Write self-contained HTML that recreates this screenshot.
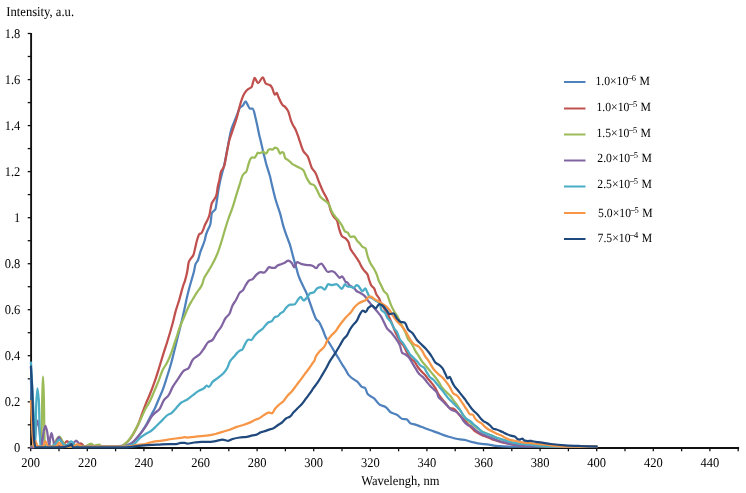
<!DOCTYPE html>
<html><head><meta charset="utf-8"><style>
html,body{margin:0;padding:0;background:#fff;width:746px;height:493px;overflow:hidden;}
svg{display:block;will-change:transform;}
</style></head><body>
<svg width="746" height="493" viewBox="0 0 746 493">
<rect width="746" height="493" fill="#fff"/>
<g font-family="'Liberation Serif', serif" font-size="12" fill="#000" text-rendering="geometricPrecision">
<text x="20.3" y="452.0" text-anchor="end" font-size="12.5" transform="matrix(1,0,0,1.07,0,-31.64)">0</text>
<text x="20.3" y="406.0" text-anchor="end" font-size="12.5" transform="matrix(1,0,0,1.07,0,-28.42)">0.2</text>
<text x="20.3" y="359.9" text-anchor="end" font-size="12.5" transform="matrix(1,0,0,1.07,0,-25.20)">0.4</text>
<text x="20.3" y="313.9" text-anchor="end" font-size="12.5" transform="matrix(1,0,0,1.07,0,-21.97)">0.6</text>
<text x="20.3" y="267.9" text-anchor="end" font-size="12.5" transform="matrix(1,0,0,1.07,0,-18.75)">0.8</text>
<text x="20.3" y="221.8" text-anchor="end" font-size="12.5" transform="matrix(1,0,0,1.07,0,-15.53)">1</text>
<text x="20.3" y="175.8" text-anchor="end" font-size="12.5" transform="matrix(1,0,0,1.07,0,-12.31)">1.2</text>
<text x="20.3" y="129.8" text-anchor="end" font-size="12.5" transform="matrix(1,0,0,1.07,0,-9.09)">1.4</text>
<text x="20.3" y="83.8" text-anchor="end" font-size="12.5" transform="matrix(1,0,0,1.07,0,-5.86)">1.6</text>
<text x="20.3" y="37.7" text-anchor="end" font-size="12.5" transform="matrix(1,0,0,1.07,0,-2.64)">1.8</text>
<text x="30.7" y="466.7" text-anchor="middle" font-size="12.5" transform="matrix(1,0,0,1.07,0,-32.67)">200</text>
<text x="87.3" y="466.7" text-anchor="middle" font-size="12.5" transform="matrix(1,0,0,1.07,0,-32.67)">220</text>
<text x="143.9" y="466.7" text-anchor="middle" font-size="12.5" transform="matrix(1,0,0,1.07,0,-32.67)">240</text>
<text x="200.5" y="466.7" text-anchor="middle" font-size="12.5" transform="matrix(1,0,0,1.07,0,-32.67)">260</text>
<text x="257.1" y="466.7" text-anchor="middle" font-size="12.5" transform="matrix(1,0,0,1.07,0,-32.67)">280</text>
<text x="313.7" y="466.7" text-anchor="middle" font-size="12.5" transform="matrix(1,0,0,1.07,0,-32.67)">300</text>
<text x="370.3" y="466.7" text-anchor="middle" font-size="12.5" transform="matrix(1,0,0,1.07,0,-32.67)">320</text>
<text x="426.9" y="466.7" text-anchor="middle" font-size="12.5" transform="matrix(1,0,0,1.07,0,-32.67)">340</text>
<text x="483.5" y="466.7" text-anchor="middle" font-size="12.5" transform="matrix(1,0,0,1.07,0,-32.67)">360</text>
<text x="540.1" y="466.7" text-anchor="middle" font-size="12.5" transform="matrix(1,0,0,1.07,0,-32.67)">380</text>
<text x="596.7" y="466.7" text-anchor="middle" font-size="12.5" transform="matrix(1,0,0,1.07,0,-32.67)">400</text>
<text x="653.3" y="466.7" text-anchor="middle" font-size="12.5" transform="matrix(1,0,0,1.07,0,-32.67)">420</text>
<text x="709.9" y="466.7" text-anchor="middle" font-size="12.5" transform="matrix(1,0,0,1.07,0,-32.67)">440</text>
<text x="400.3" y="484.9" text-anchor="middle" font-size="12.5" transform="matrix(1,0,0,1.07,0,-33.94)">Wavelengh, nm</text>
<text x="6.3" y="15.8" font-size="12.6" transform="matrix(1,0,0,1.07,0,-1.11)">Intensity, a.u.</text>
<line x1="564" y1="82.0" x2="585.5" y2="82.0" stroke="#4F81BD" stroke-width="2"/>
<text font-size="11.7" x="595.4" y="85.1" transform="matrix(1,0,0,1.07,0,-5.96)">1.0×10<tspan font-size="10" dx="-1" dy="-2.7">−</tspan><tspan font-size="8.5" dx="-1.1" dy="-1.3">6</tspan><tspan dy="4.0" dx="0.5"> M</tspan></text>
<line x1="564" y1="108.5" x2="585.5" y2="108.5" stroke="#C0504D" stroke-width="2"/>
<text font-size="11.7" x="596.5" y="111.0" transform="matrix(1,0,0,1.07,0,-7.77)">1.0×10<tspan font-size="10" dx="-1" dy="-2.7">−</tspan><tspan font-size="8.5" dx="-1.1" dy="-1.3">5</tspan><tspan dy="4.0" dx="0.5"> M</tspan></text>
<line x1="564" y1="134.5" x2="585.5" y2="134.5" stroke="#9BBB59" stroke-width="2"/>
<text font-size="11.7" x="596.5" y="136.9" transform="matrix(1,0,0,1.07,0,-9.58)">1.5×10<tspan font-size="10" dx="-1" dy="-2.7">−</tspan><tspan font-size="8.5" dx="-1.1" dy="-1.3">5</tspan><tspan dy="4.0" dx="0.5"> M</tspan></text>
<line x1="564" y1="160.5" x2="585.5" y2="160.5" stroke="#8064A2" stroke-width="2"/>
<text font-size="11.7" x="597.3" y="162.0" transform="matrix(1,0,0,1.07,0,-11.34)">2.0×10<tspan font-size="10" dx="-1" dy="-2.7">−</tspan><tspan font-size="8.5" dx="-1.1" dy="-1.3">5</tspan><tspan dy="4.0" dx="0.5"> M</tspan></text>
<line x1="564" y1="186.5" x2="585.5" y2="186.5" stroke="#4BACC6" stroke-width="2"/>
<text font-size="11.7" x="597.3" y="188.1" transform="matrix(1,0,0,1.07,0,-13.17)">2.5×10<tspan font-size="10" dx="-1" dy="-2.7">−</tspan><tspan font-size="8.5" dx="-1.1" dy="-1.3">5</tspan><tspan dy="4.0" dx="0.5"> M</tspan></text>
<line x1="564" y1="213.0" x2="585.5" y2="213.0" stroke="#F79646" stroke-width="2"/>
<text font-size="11.7" x="598.1" y="217.1" transform="matrix(1,0,0,1.07,0,-15.20)">5.0×10<tspan font-size="10" dx="-1" dy="-2.7">−</tspan><tspan font-size="8.5" dx="-1.1" dy="-1.3">5</tspan><tspan dy="4.0" dx="0.5"> M</tspan></text>
<line x1="564" y1="239.0" x2="585.5" y2="239.0" stroke="#1F497D" stroke-width="2"/>
<text font-size="11.7" x="597.6" y="242.1" transform="matrix(1,0,0,1.07,0,-16.95)">7.5×10<tspan font-size="10" dx="-1" dy="-2.7">−</tspan><tspan font-size="8.5" dx="-1.1" dy="-1.3">4</tspan><tspan dy="4.0" dx="0.5"> M</tspan></text>
</g>
<g>
<line x1="31.1" y1="33.0" x2="31.1" y2="448.9" stroke="#111" stroke-width="1.9"/>
<line x1="30.2" y1="448.0" x2="739.1" y2="448.0" stroke="#111" stroke-width="1.9"/>
<line x1="27.7" y1="447.8" x2="31.1" y2="447.8" stroke="#111" stroke-width="1.3"/>
<line x1="27.7" y1="424.8" x2="31.1" y2="424.8" stroke="#111" stroke-width="1.3"/>
<line x1="27.7" y1="401.8" x2="31.1" y2="401.8" stroke="#111" stroke-width="1.3"/>
<line x1="27.7" y1="378.8" x2="31.1" y2="378.8" stroke="#111" stroke-width="1.3"/>
<line x1="27.7" y1="355.7" x2="31.1" y2="355.7" stroke="#111" stroke-width="1.3"/>
<line x1="27.7" y1="332.7" x2="31.1" y2="332.7" stroke="#111" stroke-width="1.3"/>
<line x1="27.7" y1="309.7" x2="31.1" y2="309.7" stroke="#111" stroke-width="1.3"/>
<line x1="27.7" y1="286.7" x2="31.1" y2="286.7" stroke="#111" stroke-width="1.3"/>
<line x1="27.7" y1="263.7" x2="31.1" y2="263.7" stroke="#111" stroke-width="1.3"/>
<line x1="27.7" y1="240.7" x2="31.1" y2="240.7" stroke="#111" stroke-width="1.3"/>
<line x1="27.7" y1="217.7" x2="31.1" y2="217.7" stroke="#111" stroke-width="1.3"/>
<line x1="27.7" y1="194.6" x2="31.1" y2="194.6" stroke="#111" stroke-width="1.3"/>
<line x1="27.7" y1="171.6" x2="31.1" y2="171.6" stroke="#111" stroke-width="1.3"/>
<line x1="27.7" y1="148.6" x2="31.1" y2="148.6" stroke="#111" stroke-width="1.3"/>
<line x1="27.7" y1="125.6" x2="31.1" y2="125.6" stroke="#111" stroke-width="1.3"/>
<line x1="27.7" y1="102.6" x2="31.1" y2="102.6" stroke="#111" stroke-width="1.3"/>
<line x1="27.7" y1="79.6" x2="31.1" y2="79.6" stroke="#111" stroke-width="1.3"/>
<line x1="27.7" y1="56.5" x2="31.1" y2="56.5" stroke="#111" stroke-width="1.3"/>
<line x1="27.7" y1="33.5" x2="31.1" y2="33.5" stroke="#111" stroke-width="1.3"/>
<line x1="30.7" y1="448.0" x2="30.7" y2="451.3" stroke="#111" stroke-width="1.3"/>
<line x1="59.0" y1="448.0" x2="59.0" y2="451.3" stroke="#111" stroke-width="1.3"/>
<line x1="87.3" y1="448.0" x2="87.3" y2="451.3" stroke="#111" stroke-width="1.3"/>
<line x1="115.6" y1="448.0" x2="115.6" y2="451.3" stroke="#111" stroke-width="1.3"/>
<line x1="143.9" y1="448.0" x2="143.9" y2="451.3" stroke="#111" stroke-width="1.3"/>
<line x1="172.2" y1="448.0" x2="172.2" y2="451.3" stroke="#111" stroke-width="1.3"/>
<line x1="200.5" y1="448.0" x2="200.5" y2="451.3" stroke="#111" stroke-width="1.3"/>
<line x1="228.8" y1="448.0" x2="228.8" y2="451.3" stroke="#111" stroke-width="1.3"/>
<line x1="257.1" y1="448.0" x2="257.1" y2="451.3" stroke="#111" stroke-width="1.3"/>
<line x1="285.4" y1="448.0" x2="285.4" y2="451.3" stroke="#111" stroke-width="1.3"/>
<line x1="313.7" y1="448.0" x2="313.7" y2="451.3" stroke="#111" stroke-width="1.3"/>
<line x1="342.0" y1="448.0" x2="342.0" y2="451.3" stroke="#111" stroke-width="1.3"/>
<line x1="370.3" y1="448.0" x2="370.3" y2="451.3" stroke="#111" stroke-width="1.3"/>
<line x1="398.6" y1="448.0" x2="398.6" y2="451.3" stroke="#111" stroke-width="1.3"/>
<line x1="426.9" y1="448.0" x2="426.9" y2="451.3" stroke="#111" stroke-width="1.3"/>
<line x1="455.2" y1="448.0" x2="455.2" y2="451.3" stroke="#111" stroke-width="1.3"/>
<line x1="483.5" y1="448.0" x2="483.5" y2="451.3" stroke="#111" stroke-width="1.3"/>
<line x1="511.8" y1="448.0" x2="511.8" y2="451.3" stroke="#111" stroke-width="1.3"/>
<line x1="540.1" y1="448.0" x2="540.1" y2="451.3" stroke="#111" stroke-width="1.3"/>
<line x1="568.4" y1="448.0" x2="568.4" y2="451.3" stroke="#111" stroke-width="1.3"/>
<line x1="596.7" y1="448.0" x2="596.7" y2="451.3" stroke="#111" stroke-width="1.3"/>
<line x1="625.0" y1="448.0" x2="625.0" y2="451.3" stroke="#111" stroke-width="1.3"/>
<line x1="653.3" y1="448.0" x2="653.3" y2="451.3" stroke="#111" stroke-width="1.3"/>
<line x1="681.6" y1="448.0" x2="681.6" y2="451.3" stroke="#111" stroke-width="1.3"/>
<line x1="709.9" y1="448.0" x2="709.9" y2="451.3" stroke="#111" stroke-width="1.3"/>
<line x1="738.2" y1="448.0" x2="738.2" y2="451.3" stroke="#111" stroke-width="1.3"/>
</g>
<g>
<path d="M30.90,378.00 C31.43,395.33 31.97,421.24 32.50,430.00 C33.00,438.21 33.50,446.60 34.00,446.60 C34.67,446.60 35.33,444.50 36.00,444.50 C36.67,444.50 37.33,446.60 38.00,446.60 C42.00,446.60 46.00,446.60 50.00,446.60 C53.33,446.60 56.67,446.10 60.00,445.80 C64.00,445.45 68.00,444.60 72.00,444.60 C74.67,444.60 77.33,446.60 80.00,446.60 C86.67,446.60 93.33,446.60 100.00,446.60 C108.67,446.60 117.33,446.32 126.00,445.50 C127.90,445.32 129.80,444.08 131.70,442.90 C133.93,441.51 136.17,438.81 138.40,436.20 C140.27,434.02 142.13,431.33 144.00,428.40 C145.47,426.10 146.93,423.32 148.40,420.60 C149.53,418.50 150.67,416.09 151.80,414.00 C152.63,412.47 153.47,411.26 154.30,409.60 C155.70,406.81 157.10,402.98 158.50,399.70 C159.93,396.34 161.37,393.48 162.80,389.70 C164.20,386.00 165.60,381.34 167.00,376.90 C168.43,372.36 169.87,367.87 171.30,362.70 C172.50,358.37 173.70,353.30 174.90,348.50 C175.60,345.70 176.30,342.82 177.00,340.00 C177.97,336.11 178.93,332.30 179.90,328.40 C180.83,324.63 181.77,321.00 182.70,317.00 C183.43,313.86 184.17,310.48 184.90,307.10 C185.67,303.56 186.43,299.47 187.20,296.20 C187.97,292.93 188.73,290.14 189.50,287.30 C190.23,284.59 190.97,282.10 191.70,279.50 C192.43,276.90 193.17,274.65 193.90,271.70 C194.47,269.42 195.03,265.21 195.60,263.90 C196.33,262.21 197.07,262.14 197.80,260.60 C198.37,259.41 198.93,256.93 199.50,255.00 C199.77,254.09 200.03,253.02 200.30,252.20 C201.13,249.65 201.97,247.97 202.80,245.70 C203.47,243.88 204.13,242.37 204.80,240.00 C205.17,238.70 205.53,236.36 205.90,235.10 C206.47,233.16 207.03,231.83 207.60,230.50 C208.17,229.17 208.73,228.38 209.30,227.00 C209.70,226.02 210.10,225.19 210.50,223.50 C210.93,221.67 211.37,214.40 211.80,213.40 C212.30,212.24 212.80,211.98 213.30,211.40 C213.97,210.63 214.63,210.56 215.30,209.40 C215.83,208.47 216.37,203.61 216.90,200.30 C217.40,197.20 217.90,193.02 218.40,190.10 C219.07,186.21 219.73,182.96 220.40,180.00 C221.27,176.15 222.13,173.24 223.00,169.80 C223.43,168.08 223.87,166.51 224.30,164.60 C225.23,160.48 226.17,155.08 227.10,150.40 C228.53,143.21 229.97,133.80 231.40,129.10 C232.33,126.04 233.27,124.37 234.20,122.00 C235.13,119.63 236.07,117.23 237.00,114.90 C237.97,112.49 238.93,108.91 239.90,107.80 C240.83,106.73 241.77,106.63 242.70,105.70 C243.67,104.74 244.63,101.40 245.60,101.40 C246.30,101.40 247.00,103.72 247.70,104.90 C248.40,106.08 249.10,108.50 249.80,108.50 C250.77,108.50 251.73,108.50 252.70,108.50 C253.63,108.50 254.57,114.15 255.50,117.70 C256.20,120.36 256.90,123.70 257.60,127.00 C258.13,129.51 258.67,132.66 259.20,135.00 C259.67,137.05 260.13,138.60 260.60,140.50 C261.03,142.27 261.47,144.10 261.90,146.00 C262.37,148.05 262.83,150.45 263.30,152.40 C263.77,154.35 264.23,155.92 264.70,157.80 C265.13,159.55 265.57,161.69 266.00,163.30 C266.47,165.03 266.93,166.38 267.40,167.90 C267.87,169.42 268.33,170.88 268.80,172.40 C269.27,173.92 269.73,175.20 270.20,177.00 C270.63,178.67 271.07,181.08 271.50,183.00 C272.07,185.51 272.63,187.89 273.20,190.20 C274.03,193.60 274.87,197.10 275.70,200.00 C277.23,205.34 278.77,208.75 280.30,214.10 C281.27,217.48 282.23,222.29 283.20,225.60 C284.50,230.05 285.80,233.56 287.10,237.20 C288.07,239.90 289.03,241.88 290.00,244.90 C290.47,246.36 290.93,248.25 291.40,250.00 C292.13,252.74 292.87,255.86 293.60,258.50 C294.30,261.02 295.00,263.17 295.70,265.60 C296.63,268.84 297.57,272.95 298.50,275.60 C299.93,279.68 301.37,282.42 302.80,285.50 C303.97,288.01 305.13,289.87 306.30,292.60 C307.50,295.41 308.70,299.24 309.90,302.60 C311.07,305.87 312.23,309.47 313.40,312.50 C314.37,315.01 315.33,318.34 316.30,319.50 C317.03,320.38 317.77,320.49 318.50,321.30 C319.93,322.89 321.37,326.59 322.80,329.80 C323.73,331.89 324.67,335.01 325.60,336.90 C327.03,339.81 328.47,341.61 329.90,344.00 C331.30,346.34 332.70,348.76 334.10,351.10 C335.53,353.49 336.97,355.83 338.40,358.20 C339.83,360.57 341.27,363.02 342.70,365.30 C343.63,366.78 344.57,368.07 345.50,369.60 C346.50,371.24 347.50,373.71 348.50,374.90 C350.17,376.89 351.83,378.03 353.50,379.20 C354.67,380.02 355.83,380.40 357.00,381.30 C358.67,382.59 360.33,386.37 362.00,387.00 C362.97,387.36 363.93,387.28 364.90,387.70 C365.83,388.11 366.77,393.06 367.70,394.10 C369.83,396.49 371.97,396.61 374.10,398.40 C376.00,400.00 377.90,403.61 379.80,404.70 C381.70,405.79 383.60,405.84 385.50,406.90 C387.37,407.95 389.23,411.59 391.10,412.60 C393.00,413.63 394.90,413.76 396.80,414.70 C398.70,415.64 400.60,418.70 402.50,419.00 C403.93,419.23 405.37,419.15 406.80,419.40 C407.97,419.61 409.13,422.66 410.30,423.20 C411.97,423.97 413.63,424.07 415.30,424.60 C417.30,425.23 419.30,426.06 421.30,426.80 C424.13,427.85 426.97,428.97 429.80,430.00 C432.27,430.90 434.73,431.71 437.20,432.60 C440.43,433.77 443.67,435.24 446.90,436.20 C451.27,437.50 455.63,438.87 460.00,439.40 C461.50,439.58 463.00,439.60 464.50,439.80 C466.73,440.10 468.97,441.34 471.20,441.90 C473.43,442.46 475.67,442.96 477.90,443.30 C480.13,443.64 482.37,443.81 484.60,444.10 C486.07,444.29 487.53,444.48 489.00,444.70 C491.23,445.04 493.47,445.75 495.70,445.90 C501.97,446.33 508.23,446.60 514.50,446.60 C523.00,446.60 531.50,446.60 540.00,446.60 C558.83,446.60 577.67,446.60 596.50,446.60" stroke="#4F81BD" stroke-width="2.25" fill="none" stroke-linejoin="round" stroke-linecap="round"/>
<path d="M31.00,446.60 C37.33,446.60 43.67,446.60 50.00,446.60 C53.33,446.60 56.67,446.40 60.00,446.00 C61.33,445.84 62.67,444.89 64.00,444.00 C65.03,443.31 66.07,441.00 67.10,441.00 C68.07,441.00 69.03,444.01 70.00,444.50 C71.67,445.35 73.33,446.00 75.00,446.00 C76.00,446.00 77.00,445.42 78.00,445.00 C79.00,444.58 80.00,443.30 81.00,443.30 C82.00,443.30 83.00,445.91 84.00,446.00 C89.33,446.49 94.67,446.60 100.00,446.60 C106.67,446.60 113.33,446.60 120.00,446.60 C121.67,446.60 123.33,445.14 125.00,444.00 C126.50,442.98 128.00,441.39 129.50,439.60 C130.97,437.85 132.43,435.42 133.90,432.90 C135.40,430.32 136.90,427.48 138.40,424.00 C139.87,420.60 141.33,415.66 142.80,411.70 C143.93,408.64 145.07,405.59 146.20,402.80 C147.47,399.68 148.73,397.13 150.00,394.00 C151.43,390.46 152.87,386.67 154.30,382.60 C155.70,378.63 157.10,374.24 158.50,369.80 C159.93,365.26 161.37,360.20 162.80,355.60 C164.47,350.25 166.13,345.47 167.80,340.00 C169.47,334.53 171.13,328.95 172.80,322.70 C173.73,319.20 174.67,314.73 175.60,311.40 C176.80,307.12 178.00,304.04 179.20,300.00 C180.53,295.51 181.87,289.71 183.20,285.60 C183.80,283.75 184.40,282.56 185.00,280.60 C185.73,278.20 186.47,275.24 187.20,271.70 C187.77,268.96 188.33,263.16 188.90,261.70 C189.47,260.24 190.03,259.76 190.60,258.90 C191.53,257.48 192.47,256.98 193.40,255.00 C194.10,253.51 194.80,249.34 195.50,246.50 C196.03,244.34 196.57,241.74 197.10,240.00 C197.83,237.60 198.57,234.69 199.30,234.10 C200.00,233.54 200.70,233.64 201.40,233.10 C202.07,232.58 202.73,230.65 203.40,229.10 C203.90,227.94 204.40,226.12 204.90,225.00 C205.50,223.65 206.10,222.85 206.70,221.60 C207.57,219.80 208.43,218.25 209.30,215.50 C210.13,212.85 210.97,205.31 211.80,203.30 C212.63,201.29 213.47,200.77 214.30,199.30 C215.00,198.07 215.70,197.33 216.40,195.20 C216.90,193.68 217.40,188.53 217.90,186.10 C218.40,183.67 218.90,182.32 219.40,180.00 C219.90,177.68 220.40,173.28 220.90,171.90 C221.93,169.04 222.97,169.23 224.00,166.60 C225.07,163.89 226.13,155.83 227.20,150.60 C227.93,147.01 228.67,142.72 229.40,140.00 C230.33,136.54 231.27,134.51 232.20,131.70 C233.80,126.89 235.40,122.63 237.00,117.00 C237.83,114.07 238.67,110.03 239.50,107.00 C240.27,104.21 241.03,101.34 241.80,99.30 C242.83,96.56 243.87,94.05 244.90,92.60 C246.10,90.91 247.30,89.78 248.50,88.90 C249.53,88.14 250.57,88.21 251.60,87.10 C252.10,86.56 252.60,83.73 253.10,82.20 C253.60,80.67 254.10,77.90 254.60,77.90 C255.73,77.90 256.87,83.10 258.00,83.10 C259.63,83.10 261.27,77.30 262.90,77.30 C263.80,77.30 264.70,82.71 265.60,83.40 C267.23,84.66 268.87,84.30 270.50,85.50 C271.10,85.94 271.70,87.15 272.30,88.30 C273.13,89.89 273.97,94.70 274.80,94.70 C275.50,94.70 276.20,92.90 276.90,92.90 C277.33,92.90 277.77,95.38 278.20,96.40 C279.63,99.76 281.07,103.34 282.50,104.90 C283.43,105.92 284.37,106.15 285.30,107.10 C286.27,108.08 287.23,109.35 288.20,111.30 C289.13,113.19 290.07,118.13 291.00,120.60 C291.73,122.54 292.47,124.08 293.20,125.50 C293.90,126.85 294.60,127.68 295.30,129.10 C296.23,130.99 297.17,133.62 298.10,136.20 C298.73,137.95 299.37,140.09 300.00,141.90 C301.13,145.14 302.27,149.15 303.40,151.10 C304.83,153.56 306.27,153.95 307.70,156.40 C309.10,158.80 310.50,165.64 311.90,168.10 C312.97,169.97 314.03,170.49 315.10,172.30 C316.53,174.73 317.97,179.59 319.40,183.00 C320.80,186.34 322.20,189.76 323.60,192.60 C324.67,194.77 325.73,196.14 326.80,198.50 C327.60,200.27 328.40,202.44 329.20,205.00 C329.70,206.60 330.20,209.33 330.70,210.70 C331.63,213.25 332.57,214.98 333.50,216.40 C334.67,218.18 335.83,218.37 337.00,220.60 C337.73,222.00 338.47,226.82 339.20,229.10 C340.13,232.01 341.07,235.39 342.00,236.30 C343.20,237.47 344.40,237.43 345.60,238.40 C346.53,239.15 347.47,240.16 348.40,241.90 C349.10,243.21 349.80,247.53 350.50,249.00 C351.47,251.04 352.43,251.89 353.40,253.30 C354.57,255.00 355.73,256.54 356.90,258.30 C357.63,259.41 358.37,260.49 359.10,261.80 C359.80,263.05 360.50,264.88 361.20,266.10 C362.13,267.73 363.07,269.05 364.00,270.30 C365.20,271.90 366.40,272.34 367.60,274.60 C368.13,275.60 368.67,278.43 369.20,280.00 C369.93,282.16 370.67,284.62 371.40,285.70 C372.33,287.07 373.27,287.11 374.20,288.50 C374.90,289.55 375.60,292.84 376.30,294.20 C377.27,296.08 378.23,296.63 379.20,298.50 C379.90,299.85 380.60,302.72 381.30,304.10 C382.23,305.94 383.17,306.99 384.10,308.40 C385.07,309.86 386.03,311.04 387.00,312.70 C387.93,314.30 388.87,316.33 389.80,318.40 C390.77,320.55 391.73,323.09 392.70,325.50 C393.63,327.83 394.57,330.55 395.50,332.60 C396.47,334.72 397.43,336.30 398.40,338.20 C398.93,339.25 399.47,340.58 400.00,341.40 C401.20,343.25 402.40,343.89 403.60,345.70 C404.77,347.46 405.93,350.72 407.10,352.80 C408.30,354.94 409.50,357.23 410.70,358.50 C411.87,359.74 413.03,360.06 414.20,361.30 C415.40,362.57 416.60,365.34 417.80,367.00 C418.97,368.61 420.13,370.02 421.30,371.30 C422.23,372.33 423.17,373.09 424.10,374.10 C425.30,375.40 426.50,376.98 427.70,378.40 C428.90,379.82 430.10,381.10 431.30,382.60 C432.70,384.35 434.10,386.03 435.50,388.30 C436.47,389.87 437.43,392.43 438.40,394.00 C439.80,396.27 441.20,397.95 442.60,399.70 C443.80,401.20 445.00,402.46 446.20,403.90 C447.37,405.30 448.53,407.90 449.70,408.20 C450.87,408.50 452.03,408.43 453.20,408.70 C455.33,409.20 457.47,412.89 459.60,415.10 C461.73,417.31 463.87,419.70 466.00,422.00 C467.33,423.44 468.67,424.92 470.00,426.30 C471.33,427.68 472.67,429.20 474.00,430.30 C475.33,431.40 476.67,432.33 478.00,433.10 C479.37,433.89 480.73,434.50 482.10,435.10 C483.43,435.69 484.77,436.17 486.10,436.70 C487.43,437.23 488.77,437.77 490.10,438.30 C491.43,438.83 492.77,439.45 494.10,439.90 C495.47,440.36 496.83,440.68 498.20,441.10 C499.53,441.51 500.87,442.06 502.20,442.40 C504.87,443.08 507.53,443.55 510.20,444.00 C512.90,444.46 515.60,444.94 518.30,445.20 C522.20,445.57 526.10,446.00 530.00,446.00 C532.07,446.00 534.13,445.80 536.20,445.80 C544.13,445.80 552.07,446.60 560.00,446.60 C572.17,446.60 584.33,446.60 596.50,446.60" stroke="#C0504D" stroke-width="2.25" fill="none" stroke-linejoin="round" stroke-linecap="round"/>
<path d="M31.00,446.60 C34.00,446.60 37.00,446.60 40.00,446.60 C40.47,446.60 40.93,445.04 41.40,441.90 C41.70,439.88 42.00,405.34 42.30,395.00 C42.53,386.96 42.77,376.60 43.00,376.60 C43.27,376.60 43.53,386.19 43.80,395.00 C44.07,403.81 44.33,440.06 44.60,441.90 C45.07,445.13 45.53,446.60 46.00,446.60 C48.00,446.60 50.00,446.60 52.00,446.60 C53.00,446.60 54.00,443.38 55.00,442.00 C56.43,440.03 57.87,436.70 59.30,436.70 C60.53,436.70 61.77,440.17 63.00,442.00 C64.00,443.48 65.00,446.60 66.00,446.60 C72.33,446.60 78.67,446.60 85.00,446.60 C86.00,446.60 87.00,445.49 88.00,445.00 C89.10,444.46 90.20,443.50 91.30,443.50 C92.20,443.50 93.10,446.00 94.00,446.00 C94.67,446.00 95.33,445.17 96.00,445.00 C97.03,444.74 98.07,444.50 99.10,444.50 C100.07,444.50 101.03,446.60 102.00,446.60 C108.00,446.60 114.00,446.60 120.00,446.60 C122.03,446.60 124.07,444.54 126.10,442.90 C127.97,441.39 129.83,438.89 131.70,436.20 C133.17,434.09 134.63,431.14 136.10,428.40 C137.60,425.60 139.10,422.64 140.60,419.50 C142.10,416.36 143.60,412.41 145.10,409.50 C146.73,406.33 148.37,404.33 150.00,401.10 C151.43,398.26 152.87,394.46 154.30,391.10 C155.70,387.82 157.10,384.69 158.50,381.20 C159.93,377.62 161.37,372.76 162.80,369.80 C164.20,366.91 165.60,365.43 167.00,362.70 C168.43,359.91 169.87,356.59 171.30,352.80 C172.23,350.33 173.17,347.04 174.10,344.30 C174.60,342.83 175.10,341.47 175.60,340.00 C177.03,335.80 178.47,330.82 179.90,327.00 C181.30,323.27 182.70,320.28 184.10,317.00 C185.53,313.64 186.97,310.06 188.40,307.10 C189.13,305.58 189.87,304.21 190.60,302.90 C191.70,300.93 192.80,299.22 193.90,297.40 C195.03,295.52 196.17,293.49 197.30,291.80 C198.40,290.16 199.50,289.10 200.60,287.30 C201.17,286.37 201.73,285.38 202.30,284.00 C202.87,282.62 203.43,279.71 204.00,278.40 C205.10,275.85 206.20,274.65 207.30,272.80 C208.40,270.95 209.50,269.22 210.60,267.30 C211.73,265.33 212.87,263.36 214.00,261.10 C214.93,259.24 215.87,257.23 216.80,255.00 C217.40,253.57 218.00,251.97 218.60,250.30 C219.60,247.51 220.60,244.42 221.60,241.20 C222.73,237.55 223.87,233.22 225.00,229.50 C226.17,225.67 227.33,221.90 228.50,218.50 C229.87,214.52 231.23,211.47 232.60,207.40 C233.93,203.43 235.27,198.51 236.60,194.20 C237.60,190.97 238.60,187.82 239.60,184.70 C240.60,181.58 241.60,177.23 242.60,175.50 C243.27,174.35 243.93,173.57 244.60,173.00 C245.10,172.57 245.60,172.53 246.10,172.00 C246.80,171.26 247.50,167.57 248.20,165.40 C248.87,163.34 249.53,160.30 250.20,159.30 C250.87,158.30 251.53,157.30 252.20,157.30 C252.90,157.30 253.60,157.80 254.30,157.80 C254.97,157.80 255.63,156.28 256.30,155.30 C256.80,154.57 257.30,152.70 257.80,152.70 C258.47,152.70 259.13,153.20 259.80,153.20 C260.50,153.20 261.20,152.47 261.90,152.20 C262.40,152.01 262.90,151.70 263.40,151.70 C264.07,151.70 264.73,153.70 265.40,153.70 C265.90,153.70 266.40,153.20 266.90,152.70 C267.40,152.20 267.90,149.92 268.40,149.70 C269.10,149.39 269.80,149.20 270.50,149.20 C271.17,149.20 271.83,149.70 272.50,149.70 C273.33,149.70 274.17,147.70 275.00,147.70 C275.70,147.70 276.40,147.90 277.10,148.20 C277.60,148.42 278.10,149.79 278.60,150.70 C279.10,151.61 279.60,153.70 280.10,153.70 C280.77,153.70 281.43,152.20 282.10,152.20 C282.60,152.20 283.10,152.40 283.60,152.70 C284.13,153.02 284.67,157.72 285.20,158.30 C286.03,159.20 286.87,159.22 287.70,159.80 C288.53,160.38 289.37,161.15 290.20,161.90 C291.07,162.68 291.93,163.87 292.80,164.40 C293.53,164.85 294.27,165.05 295.00,165.40 C296.73,166.23 298.47,167.09 300.20,168.10 C301.27,168.72 302.33,169.11 303.40,170.20 C304.47,171.29 305.53,175.75 306.60,177.70 C308.03,180.31 309.47,183.21 310.90,184.00 C311.93,184.57 312.97,184.50 314.00,185.10 C315.07,185.72 316.13,188.47 317.20,190.40 C318.30,192.39 319.40,195.71 320.50,197.00 C322.23,199.03 323.97,199.76 325.70,201.10 C326.27,201.54 326.83,201.83 327.40,202.40 C328.00,203.00 328.60,203.93 329.20,205.00 C330.17,206.72 331.13,210.34 332.10,212.10 C333.27,214.22 334.43,215.60 335.60,217.10 C336.80,218.64 338.00,219.70 339.20,221.30 C340.13,222.54 341.07,223.99 342.00,225.60 C342.97,227.27 343.93,230.53 344.90,231.30 C345.83,232.04 346.77,232.00 347.70,232.70 C348.63,233.40 349.57,237.00 350.50,237.00 C351.70,237.00 352.90,236.30 354.10,236.30 C355.03,236.30 355.97,239.38 356.90,240.50 C357.87,241.66 358.83,242.33 359.80,243.40 C360.73,244.44 361.67,246.25 362.60,246.90 C363.57,247.58 364.53,247.44 365.50,248.30 C366.20,248.92 366.90,253.97 367.60,256.10 C368.53,258.94 369.47,261.36 370.40,263.20 C371.60,265.56 372.80,266.75 374.00,268.90 C374.93,270.57 375.87,272.24 376.80,274.60 C377.37,276.03 377.93,278.57 378.50,280.00 C379.43,282.36 380.37,283.80 381.30,285.70 C382.23,287.60 383.17,290.17 384.10,291.40 C385.07,292.67 386.03,292.79 387.00,294.20 C387.70,295.22 388.40,298.04 389.10,299.90 C389.83,301.84 390.57,303.92 391.30,305.60 C392.23,307.74 393.17,309.69 394.10,311.30 C395.03,312.91 395.97,313.91 396.90,315.50 C397.87,317.14 398.83,319.27 399.80,321.20 C400.73,323.07 401.67,325.03 402.60,326.90 C403.57,328.83 404.53,330.46 405.50,332.60 C406.43,334.67 407.37,338.35 408.30,339.70 C408.83,340.47 409.37,340.75 409.90,341.40 C410.87,342.58 411.83,344.04 412.80,345.70 C413.73,347.30 414.67,349.82 415.60,351.40 C416.57,353.04 417.53,354.12 418.50,355.60 C419.67,357.39 420.83,359.69 422.00,361.30 C423.20,362.95 424.40,364.16 425.60,365.60 C426.77,367.00 427.93,368.40 429.10,369.80 C430.30,371.24 431.50,372.65 432.70,374.10 C433.87,375.51 435.03,376.85 436.20,378.40 C437.17,379.69 438.13,381.12 439.10,382.60 C440.27,384.39 441.43,386.84 442.60,388.30 C444.03,390.09 445.47,391.17 446.90,392.60 C448.07,393.77 449.23,394.74 450.40,396.10 C451.60,397.49 452.80,399.45 454.00,401.10 C455.40,403.02 456.80,404.54 458.20,406.80 C458.70,407.61 459.20,408.77 459.70,409.60 C461.80,413.08 463.90,416.11 466.00,418.50 C467.33,420.02 468.67,421.25 470.00,422.40 C471.33,423.55 472.67,424.48 474.00,425.50 C475.33,426.52 476.67,427.51 478.00,428.50 C479.37,429.51 480.73,430.74 482.10,431.50 C483.43,432.24 484.77,432.72 486.10,433.30 C487.43,433.88 488.77,434.45 490.10,435.00 C491.43,435.55 492.77,436.07 494.10,436.60 C495.47,437.14 496.83,437.72 498.20,438.20 C499.53,438.67 500.87,439.08 502.20,439.50 C503.53,439.92 504.87,440.28 506.20,440.70 C507.53,441.12 508.87,441.64 510.20,442.00 C512.90,442.73 515.60,443.46 518.30,443.80 C522.20,444.29 526.10,444.35 530.00,444.80 C532.07,445.04 534.13,445.67 536.20,445.80 C544.13,446.31 552.07,446.60 560.00,446.60 C572.17,446.60 584.33,446.60 596.50,446.60" stroke="#9BBB59" stroke-width="2.25" fill="none" stroke-linejoin="round" stroke-linecap="round"/>
<path d="M31.00,447.40 C32.00,447.40 33.00,447.40 34.00,447.40 C34.60,447.40 35.20,431.57 35.80,428.00 C36.40,424.43 37.00,420.60 37.60,420.60 C38.20,420.60 38.80,426.25 39.40,430.00 C40.10,434.38 40.80,446.60 41.50,446.60 C42.20,446.60 42.90,435.16 43.60,432.00 C44.20,429.29 44.80,425.90 45.40,425.90 C46.00,425.90 46.60,429.29 47.20,432.00 C47.90,435.16 48.60,446.60 49.30,446.60 C49.60,446.60 49.90,439.67 50.20,438.00 C50.63,435.59 51.07,433.10 51.50,433.10 C51.93,433.10 52.37,436.34 52.80,438.00 C53.53,440.81 54.27,446.60 55.00,446.60 C55.67,446.60 56.33,441.47 57.00,440.00 C57.60,438.68 58.20,437.00 58.80,437.00 C59.40,437.00 60.00,439.05 60.60,440.00 C62.07,442.33 63.53,446.60 65.00,446.60 C66.00,446.60 67.00,445.50 68.00,445.50 C69.33,445.50 70.67,446.60 72.00,446.60 C72.83,446.60 73.67,442.97 74.50,442.00 C75.07,441.34 75.63,440.50 76.20,440.50 C76.80,440.50 77.40,441.77 78.00,442.50 C79.00,443.72 80.00,446.60 81.00,446.60 C87.33,446.60 93.67,446.60 100.00,446.60 C106.67,446.60 113.33,446.60 120.00,446.60 C121.67,446.60 123.33,446.30 125.00,446.00 C126.87,445.67 128.73,444.97 130.60,444.00 C132.83,442.85 135.07,439.84 137.30,437.40 C139.13,435.40 140.97,433.16 142.80,430.70 C144.30,428.68 145.80,426.40 147.30,424.00 C148.80,421.60 150.30,418.11 151.80,416.20 C152.90,414.80 154.00,413.78 155.10,412.80 C156.47,411.58 157.83,411.11 159.20,409.60 C160.87,407.76 162.53,401.90 164.20,399.70 C165.63,397.81 167.07,397.32 168.50,395.40 C169.90,393.52 171.30,389.32 172.70,386.90 C174.60,383.61 176.50,381.13 178.40,378.40 C180.30,375.67 182.20,371.84 184.10,370.50 C185.53,369.49 186.97,369.53 188.40,368.40 C189.80,367.30 191.20,361.56 192.60,359.90 C194.03,358.20 195.47,357.43 196.90,356.30 C197.83,355.56 198.77,355.08 199.70,354.20 C201.13,352.85 202.57,350.53 204.00,348.50 C205.40,346.51 206.80,343.14 208.20,342.10 C209.63,341.04 211.07,341.09 212.50,340.00 C213.93,338.91 215.37,334.83 216.80,332.70 C218.23,330.57 219.67,329.30 221.10,327.00 C222.50,324.76 223.90,320.57 225.30,318.50 C226.73,316.38 228.17,315.92 229.60,313.50 C230.53,311.92 231.47,307.61 232.40,305.70 C233.60,303.25 234.80,302.07 236.00,300.00 C237.30,297.76 238.60,293.97 239.90,292.60 C240.83,291.62 241.77,291.49 242.70,290.50 C243.63,289.51 244.57,286.97 245.50,285.50 C246.70,283.62 247.90,281.24 249.10,280.50 C250.27,279.78 251.43,279.79 252.60,279.10 C253.80,278.39 255.00,275.93 256.20,274.90 C257.63,273.67 259.07,272.00 260.50,272.00 C261.67,272.00 262.83,272.70 264.00,272.70 C264.93,272.70 265.87,270.97 266.80,269.90 C267.53,269.06 268.27,267.00 269.00,267.00 C269.93,267.00 270.87,267.80 271.80,267.80 C272.77,267.80 273.73,267.80 274.70,267.80 C275.63,267.80 276.57,266.10 277.50,265.60 C278.67,264.97 279.83,264.66 281.00,264.20 C282.20,263.73 283.40,263.36 284.60,262.80 C285.80,262.24 287.00,260.70 288.20,260.70 C289.37,260.70 290.53,261.73 291.70,262.80 C292.57,263.59 293.43,267.30 294.30,267.30 C295.20,267.30 296.10,262.00 297.00,262.00 C298.57,262.00 300.13,263.70 301.70,264.10 C303.83,264.64 305.97,265.20 308.10,265.20 C308.73,265.20 309.37,265.00 310.00,265.00 C311.00,265.00 312.00,265.56 313.00,266.00 C314.13,266.50 315.27,268.20 316.40,268.20 C317.17,268.20 317.93,265.56 318.70,265.00 C319.60,264.35 320.50,263.70 321.40,263.70 C322.47,263.70 323.53,266.43 324.60,267.80 C325.67,269.17 326.73,271.90 327.80,271.90 C329.17,271.90 330.53,271.00 331.90,271.00 C332.97,271.00 334.03,271.97 335.10,272.80 C335.87,273.39 336.63,274.67 337.40,275.50 C338.17,276.33 338.93,277.80 339.70,277.80 C340.43,277.80 341.17,276.40 341.90,276.40 C342.53,276.40 343.17,277.79 343.80,278.70 C344.40,279.57 345.00,281.61 345.60,281.90 C346.20,282.19 346.80,282.12 347.40,282.40 C348.00,282.68 348.60,284.54 349.20,285.10 C350.13,285.97 351.07,286.27 352.00,286.90 C352.90,287.50 353.80,287.98 354.70,288.80 C355.30,289.35 355.90,290.56 356.50,291.00 C357.13,291.47 357.77,291.68 358.40,292.00 C358.93,292.27 359.47,292.50 360.00,292.80 C361.43,293.59 362.87,294.34 364.30,295.60 C365.70,296.83 367.10,299.55 368.50,301.30 C369.93,303.10 371.37,304.61 372.80,306.30 C374.20,307.95 375.60,309.56 377.00,311.30 C378.43,313.08 379.87,314.59 381.30,316.90 C382.23,318.41 383.17,320.73 384.10,322.60 C385.07,324.53 386.03,326.99 387.00,328.30 C388.43,330.24 389.87,330.96 391.30,332.60 C392.70,334.20 394.10,336.23 395.50,338.20 C396.47,339.56 397.43,340.83 398.40,342.50 C398.93,343.42 399.47,344.37 400.00,345.70 C400.70,347.44 401.40,352.18 402.10,352.80 C403.07,353.65 404.03,353.62 405.00,354.20 C406.17,354.90 407.33,355.76 408.50,357.00 C409.70,358.27 410.90,360.77 412.10,362.70 C413.27,364.57 414.43,366.53 415.60,368.40 C416.80,370.33 418.00,372.83 419.20,374.10 C420.37,375.34 421.53,375.78 422.70,376.90 C423.90,378.05 425.10,379.75 426.30,381.20 C427.47,382.61 428.63,384.23 429.80,385.50 C431.23,387.07 432.67,388.26 434.10,389.70 C435.03,390.64 435.97,391.12 436.90,392.60 C437.40,393.39 437.90,396.01 438.40,396.80 C439.33,398.28 440.27,398.75 441.20,399.70 C442.13,400.65 443.07,401.57 444.00,402.50 C445.43,403.93 446.87,405.37 448.30,406.80 C449.23,407.73 450.17,409.01 451.10,409.60 C452.87,410.71 454.63,410.80 456.40,411.90 C458.17,413.00 459.93,415.25 461.70,417.80 C462.23,418.57 462.77,419.99 463.30,420.70 C464.80,422.70 466.30,424.67 467.80,425.10 C468.53,425.31 469.27,425.30 470.00,425.50 C471.33,425.87 472.67,427.63 474.00,428.70 C475.33,429.77 476.67,431.00 478.00,431.90 C479.37,432.82 480.73,433.65 482.10,434.30 C483.43,434.93 484.77,435.37 486.10,435.90 C487.43,436.43 488.77,436.97 490.10,437.50 C491.43,438.03 492.77,438.57 494.10,439.10 C495.47,439.64 496.83,440.22 498.20,440.70 C499.53,441.17 500.87,441.67 502.20,442.00 C503.53,442.33 504.87,442.48 506.20,442.80 C507.53,443.12 508.87,443.73 510.20,444.00 C512.90,444.56 515.60,444.94 518.30,445.20 C522.20,445.57 526.10,446.00 530.00,446.00 C532.07,446.00 534.13,445.80 536.20,445.80 C544.13,445.80 552.07,446.60 560.00,446.60 C572.17,446.60 584.33,446.60 596.50,446.60" stroke="#8064A2" stroke-width="2.25" fill="none" stroke-linejoin="round" stroke-linecap="round"/>
<path d="M30.90,362.50 C31.67,376.67 32.43,389.98 33.20,405.00 C33.87,418.06 34.53,446.60 35.20,446.60 C35.53,446.60 35.87,412.03 36.20,405.00 C36.60,396.57 37.00,388.40 37.40,388.40 C37.87,388.40 38.33,393.94 38.80,400.00 C39.30,406.50 39.80,446.60 40.30,446.60 C43.53,446.60 46.77,446.60 50.00,446.60 C52.00,446.60 54.00,444.98 56.00,443.50 C57.10,442.69 58.20,439.70 59.30,439.70 C60.37,439.70 61.43,442.54 62.50,443.50 C63.67,444.54 64.83,446.00 66.00,446.00 C67.00,446.00 68.00,443.89 69.00,443.00 C69.70,442.38 70.40,441.30 71.10,441.30 C71.83,441.30 72.57,442.29 73.30,443.00 C74.20,443.87 75.10,446.60 76.00,446.60 C84.00,446.60 92.00,446.60 100.00,446.60 C106.67,446.60 113.33,446.60 120.00,446.60 C122.00,446.60 124.00,446.28 126.00,446.00 C128.63,445.63 131.27,445.08 133.90,444.00 C136.13,443.09 138.37,439.18 140.60,437.40 C142.83,435.62 145.07,434.18 147.30,432.90 C148.40,432.27 149.50,431.90 150.60,431.20 C152.47,430.01 154.33,427.96 156.20,426.20 C158.07,424.44 159.93,422.45 161.80,420.60 C163.67,418.75 165.53,416.36 167.40,415.10 C168.87,414.11 170.33,413.84 171.80,412.80 C172.83,412.07 173.87,410.70 174.90,409.60 C177.03,407.33 179.17,403.96 181.30,402.50 C183.17,401.22 185.03,400.82 186.90,399.70 C188.80,398.56 190.70,396.83 192.60,395.40 C194.50,393.97 196.40,392.23 198.30,391.10 C200.20,389.97 202.10,389.60 204.00,388.30 C204.93,387.66 205.87,385.50 206.80,385.50 C207.50,385.50 208.20,386.90 208.90,386.90 C210.10,386.90 211.30,383.10 212.50,381.90 C214.40,380.00 216.30,379.13 218.20,377.60 C220.10,376.07 222.00,374.78 223.90,372.70 C225.07,371.42 226.23,369.84 227.40,367.70 C228.27,366.11 229.13,362.70 230.00,361.30 C231.30,359.21 232.60,358.33 233.90,356.80 C235.07,355.43 236.23,353.75 237.40,352.60 C238.27,351.75 239.13,350.80 240.00,350.40 C240.73,350.07 241.47,350.09 242.20,349.70 C243.23,349.16 244.27,345.27 245.30,343.60 C246.30,341.99 247.30,339.50 248.30,339.50 C249.33,339.50 250.37,340.00 251.40,340.00 C252.40,340.00 253.40,337.17 254.40,336.00 C255.73,334.44 257.07,333.04 258.40,331.90 C259.77,330.73 261.13,330.16 262.50,328.90 C263.50,327.98 264.50,326.37 265.50,325.30 C266.53,324.19 267.57,322.81 268.60,322.30 C269.60,321.81 270.60,321.83 271.60,321.30 C272.63,320.75 273.67,317.75 274.70,317.20 C275.70,316.67 276.70,316.70 277.70,316.20 C278.70,315.70 279.70,313.93 280.70,313.20 C281.57,312.57 282.43,312.43 283.30,311.70 C284.03,311.08 284.77,309.21 285.50,308.40 C287.00,306.75 288.50,304.83 290.00,304.70 C291.43,304.57 292.87,304.63 294.30,304.50 C295.70,304.37 297.10,300.52 298.50,299.00 C299.23,298.20 299.97,296.90 300.70,296.90 C301.63,296.90 302.57,300.40 303.50,300.40 C305.17,300.40 306.83,297.53 308.50,295.50 C309.00,294.89 309.50,293.54 310.00,293.30 C311.20,292.73 312.40,292.89 313.60,292.40 C314.83,291.90 316.07,288.96 317.30,288.30 C318.53,287.64 319.77,287.00 321.00,287.00 C322.20,287.00 323.40,289.70 324.60,289.70 C325.80,289.70 327.00,284.20 328.20,284.20 C329.43,284.20 330.67,285.10 331.90,285.10 C333.43,285.10 334.97,284.20 336.50,284.20 C337.40,284.20 338.30,285.73 339.20,286.50 C340.10,287.27 341.00,288.80 341.90,288.80 C342.97,288.80 344.03,284.20 345.10,284.20 C345.87,284.20 346.63,286.34 347.40,286.50 C348.63,286.76 349.87,286.69 351.10,286.90 C352.00,287.06 352.90,287.90 353.80,287.90 C354.70,287.90 355.60,285.10 356.50,285.10 C357.13,285.10 357.77,285.54 358.40,286.00 C358.93,286.39 359.47,287.60 360.00,288.30 C360.80,289.36 361.60,291.20 362.40,291.20 C363.37,291.20 364.33,288.40 365.30,288.40 C366.00,288.40 366.70,291.24 367.40,292.60 C368.27,294.28 369.13,297.19 370.00,297.50 C370.47,297.67 370.93,297.66 371.40,297.80 C372.80,298.22 374.20,299.57 375.60,300.60 C377.03,301.65 378.47,301.91 379.90,304.10 C380.37,304.81 380.83,309.10 381.30,309.80 C382.50,311.59 383.70,311.29 384.90,312.70 C385.83,313.80 386.77,317.15 387.70,318.40 C388.63,319.65 389.57,319.98 390.50,321.20 C391.70,322.77 392.90,326.48 394.10,328.30 C395.03,329.71 395.97,330.26 396.90,331.80 C397.93,333.51 398.97,337.86 400.00,339.50 C400.93,340.98 401.87,341.55 402.80,342.80 C404.00,344.41 405.20,346.57 406.40,348.50 C407.57,350.37 408.73,352.75 409.90,354.20 C411.10,355.69 412.30,356.60 413.50,357.80 C414.67,358.97 415.83,360.03 417.00,361.30 C418.20,362.61 419.40,364.64 420.60,365.60 C421.77,366.53 422.93,366.65 424.10,367.70 C425.07,368.57 426.03,371.15 427.00,372.70 C427.93,374.20 428.87,375.91 429.80,376.90 C431.00,378.17 432.20,378.64 433.40,379.80 C434.57,380.93 435.73,382.60 436.90,384.00 C438.10,385.44 439.30,386.85 440.50,388.30 C441.67,389.71 442.83,391.13 444.00,392.60 C445.43,394.41 446.87,396.58 448.30,398.20 C449.73,399.82 451.17,401.05 452.60,402.50 C454.00,403.92 455.40,405.41 456.80,406.80 C457.77,407.76 458.73,408.49 459.70,409.60 C461.67,411.86 463.63,416.91 465.60,418.50 C467.07,419.68 468.53,419.96 470.00,421.00 C471.33,421.94 472.67,423.56 474.00,424.70 C475.33,425.84 476.67,426.73 478.00,427.90 C479.37,429.10 480.73,431.13 482.10,431.90 C483.43,432.66 484.77,432.97 486.10,433.50 C487.43,434.03 488.77,434.57 490.10,435.10 C491.43,435.63 492.77,436.17 494.10,436.70 C495.47,437.24 496.83,437.84 498.20,438.30 C499.53,438.75 500.87,439.10 502.20,439.50 C503.53,439.90 504.87,440.28 506.20,440.70 C507.53,441.12 508.87,441.67 510.20,442.00 C511.53,442.33 512.87,442.54 514.20,442.80 C515.57,443.07 516.93,443.42 518.30,443.60 C519.63,443.78 520.97,443.88 522.30,444.00 C524.87,444.23 527.43,444.36 530.00,444.60 C533.33,444.91 536.67,445.59 540.00,445.80 C546.67,446.22 553.33,446.60 560.00,446.60 C572.17,446.60 584.33,446.60 596.50,446.60" stroke="#4BACC6" stroke-width="2.25" fill="none" stroke-linejoin="round" stroke-linecap="round"/>
<path d="M30.90,401.00 C31.37,410.67 31.83,422.65 32.30,430.00 C32.73,436.83 33.17,446.60 33.60,446.60 C34.23,446.60 34.87,441.00 35.50,441.00 C36.17,441.00 36.83,446.60 37.50,446.60 C39.33,446.60 41.17,446.60 43.00,446.60 C43.80,446.60 44.60,441.00 45.40,441.00 C46.20,441.00 47.00,446.60 47.80,446.60 C50.53,446.60 53.27,446.60 56.00,446.60 C57.10,446.60 58.20,442.70 59.30,442.70 C60.37,442.70 61.43,446.60 62.50,446.60 C66.00,446.60 69.50,446.60 73.00,446.60 C74.47,446.60 75.93,444.00 77.40,444.00 C78.93,444.00 80.47,446.60 82.00,446.60 C88.00,446.60 94.00,446.60 100.00,446.60 C106.67,446.60 113.33,446.60 120.00,446.60 C122.67,446.60 125.33,446.60 128.00,446.60 C130.70,446.60 133.40,445.61 136.10,445.20 C139.10,444.75 142.10,444.55 145.10,444.00 C147.70,443.53 150.30,442.25 152.90,441.80 C155.87,441.29 158.83,441.12 161.80,440.70 C165.13,440.22 168.47,439.48 171.80,439.00 C174.77,438.58 177.73,438.35 180.70,437.90 C182.13,437.68 183.57,437.10 185.00,437.10 C185.70,437.10 186.40,437.50 187.10,437.50 C189.47,437.50 191.83,437.03 194.20,436.80 C196.57,436.57 198.93,436.33 201.30,436.10 C203.67,435.87 206.03,435.71 208.40,435.40 C210.77,435.09 213.13,434.57 215.50,434.00 C217.87,433.43 220.23,432.52 222.60,431.80 C224.97,431.08 227.33,430.50 229.70,429.70 C232.07,428.90 234.43,427.72 236.80,426.90 C239.17,426.08 241.53,425.50 243.90,424.70 C245.80,424.06 247.70,423.40 249.60,422.60 C251.50,421.80 253.40,420.63 255.30,419.80 C256.63,419.22 257.97,418.87 259.30,418.20 C260.70,417.50 262.10,416.25 263.50,415.40 C265.17,414.38 266.83,412.60 268.50,412.60 C269.67,412.60 270.83,413.30 272.00,413.30 C272.97,413.30 273.93,410.18 274.90,409.00 C276.30,407.29 277.70,405.97 279.10,404.70 C280.53,403.40 281.97,402.65 283.40,401.20 C284.83,399.75 286.27,397.13 287.70,395.50 C289.10,393.90 290.50,392.90 291.90,391.30 C293.33,389.67 294.77,387.50 296.20,385.60 C297.63,383.70 299.07,381.82 300.50,379.90 C301.90,378.02 303.30,376.08 304.70,374.20 C306.13,372.28 307.57,370.53 309.00,368.50 C309.93,367.18 310.87,365.69 311.80,364.30 C312.77,362.86 313.73,362.08 314.70,360.00 C315.03,359.28 315.37,357.49 315.70,356.80 C317.10,353.89 318.50,352.69 319.90,351.10 C321.33,349.47 322.77,348.84 324.20,346.90 C325.13,345.64 326.07,342.72 327.00,341.20 C328.43,338.86 329.87,337.11 331.30,335.50 C332.73,333.89 334.17,333.04 335.60,331.30 C336.53,330.17 337.47,328.33 338.40,327.00 C339.83,324.95 341.27,323.10 342.70,321.30 C344.10,319.54 345.50,317.79 346.90,316.30 C348.10,315.02 349.30,314.19 350.50,312.80 C351.67,311.45 352.83,309.16 354.00,307.80 C355.43,306.13 356.87,304.56 358.30,303.60 C359.73,302.64 361.17,302.04 362.60,301.40 C363.77,300.88 364.93,300.83 366.10,300.00 C366.43,299.76 366.77,298.86 367.10,298.50 C368.03,297.49 368.97,296.30 369.90,296.30 C370.87,296.30 371.83,297.21 372.80,297.80 C373.73,298.37 374.67,299.35 375.60,299.90 C376.57,300.47 377.53,300.76 378.50,301.30 C379.90,302.08 381.30,303.16 382.70,304.10 C384.13,305.06 385.57,305.72 387.00,307.00 C387.93,307.84 388.87,309.15 389.80,310.50 C390.77,311.90 391.73,314.02 392.70,315.50 C394.10,317.64 395.50,319.59 396.90,321.20 C398.33,322.85 399.77,323.88 401.20,325.50 C402.63,327.12 404.07,328.94 405.50,331.10 C406.97,333.31 408.43,336.86 409.90,339.00 C411.33,341.09 412.77,343.30 414.20,344.30 C415.63,345.30 417.07,345.38 418.50,346.40 C419.67,347.23 420.83,349.02 422.00,350.70 C423.20,352.43 424.40,355.23 425.60,357.00 C426.53,358.37 427.47,359.24 428.40,360.60 C429.10,361.62 429.80,362.96 430.50,364.10 C431.70,366.05 432.90,368.32 434.10,369.80 C435.53,371.57 436.97,372.80 438.40,374.10 C439.80,375.37 441.20,376.22 442.60,377.60 C443.80,378.78 445.00,380.34 446.20,381.90 C447.37,383.42 448.53,385.05 449.70,386.90 C450.90,388.80 452.10,392.23 453.30,393.30 C454.47,394.34 455.63,394.45 456.80,395.40 C458.23,396.57 459.67,399.07 461.10,401.10 C462.50,403.09 463.90,405.47 465.30,407.50 C465.80,408.22 466.30,408.89 466.80,409.60 C467.87,411.12 468.93,414.13 470.00,414.30 C470.77,414.42 471.53,414.37 472.30,414.50 C472.60,414.55 472.90,414.75 473.20,415.00 C473.73,415.44 474.27,417.46 474.80,418.20 C475.87,419.68 476.93,420.60 478.00,421.40 C479.37,422.42 480.73,422.75 482.10,423.80 C482.90,424.41 483.70,425.57 484.50,426.30 C485.83,427.52 487.17,428.69 488.50,429.50 C489.57,430.15 490.63,430.57 491.70,431.10 C492.77,431.63 493.83,432.17 494.90,432.70 C496.00,433.24 497.10,433.82 498.20,434.30 C499.53,434.89 500.87,435.26 502.20,435.90 C503.53,436.54 504.87,437.66 506.20,438.30 C507.53,438.94 508.87,439.54 510.20,439.90 C511.53,440.26 512.87,440.44 514.20,440.70 C515.57,440.97 516.93,441.21 518.30,441.50 C519.63,441.78 520.97,442.22 522.30,442.40 C523.63,442.58 524.97,442.71 526.30,442.80 C527.53,442.89 528.77,442.90 530.00,443.00 C531.23,443.10 532.47,443.36 533.70,443.50 C535.80,443.74 537.90,443.89 540.00,444.10 C543.57,444.46 547.13,444.94 550.70,445.30 C555.50,445.78 560.30,446.60 565.10,446.60 C575.57,446.60 586.03,446.60 596.50,446.60" stroke="#F79646" stroke-width="2.25" fill="none" stroke-linejoin="round" stroke-linecap="round"/>
<path d="M30.90,366.50 C31.33,374.33 31.77,379.99 32.20,390.00 C32.53,397.70 32.87,412.90 33.20,421.00 C33.53,429.10 33.87,438.30 34.20,441.00 C34.63,444.52 35.07,447.40 35.50,447.40 C37.00,447.40 38.50,447.40 40.00,447.40 C46.67,447.40 53.33,447.40 60.00,447.40 C63.33,447.40 66.67,446.81 70.00,445.50 C70.47,445.32 70.93,444.00 71.40,444.00 C71.93,444.00 72.47,447.40 73.00,447.40 C82.00,447.40 91.00,447.40 100.00,447.40 C108.33,447.40 116.67,447.40 125.00,447.40 C130.57,447.40 136.13,446.15 141.70,445.70 C147.27,445.25 152.83,444.93 158.40,444.60 C162.13,444.38 165.87,444.00 169.60,444.00 C171.83,444.00 174.07,444.00 176.30,444.00 C177.77,444.00 179.23,442.90 180.70,442.90 C182.13,442.90 183.57,442.90 185.00,442.90 C185.70,442.90 186.40,443.60 187.10,443.60 C189.47,443.60 191.83,442.79 194.20,442.50 C196.57,442.21 198.93,441.80 201.30,441.80 C203.67,441.80 206.03,441.80 208.40,441.80 C210.77,441.80 213.13,441.41 215.50,441.10 C217.87,440.79 220.23,439.70 222.60,439.70 C224.50,439.70 226.40,440.80 228.30,440.80 C229.73,440.80 231.17,439.41 232.60,439.00 C234.97,438.32 237.33,437.82 239.70,437.50 C242.07,437.18 244.43,437.14 246.80,436.80 C248.67,436.53 250.53,435.76 252.40,435.40 C253.83,435.12 255.27,435.08 256.70,434.70 C257.80,434.41 258.90,433.06 260.00,432.60 C261.17,432.11 262.33,431.88 263.50,431.50 C265.40,430.89 267.30,430.23 269.20,429.60 C270.63,429.13 272.07,428.84 273.50,428.20 C274.90,427.58 276.30,426.24 277.70,425.30 C279.13,424.34 280.57,423.63 282.00,422.50 C283.43,421.37 284.87,419.01 286.30,418.20 C287.47,417.54 288.63,417.49 289.80,416.80 C291.00,416.09 292.20,413.91 293.40,412.60 C294.80,411.07 296.20,409.72 297.60,408.30 C299.03,406.85 300.47,405.64 301.90,404.00 C303.30,402.40 304.70,400.26 306.10,398.40 C307.53,396.49 308.97,394.75 310.40,392.70 C311.33,391.37 312.27,389.73 313.20,388.40 C314.63,386.35 316.07,384.81 317.50,382.70 C318.93,380.59 320.37,377.99 321.80,375.60 C323.20,373.26 324.60,371.00 326.00,368.50 C327.30,366.17 328.60,363.29 329.90,361.10 C331.80,357.90 333.70,355.62 335.60,352.60 C337.00,350.37 338.40,347.84 339.80,345.50 C341.23,343.11 342.67,340.20 344.10,338.40 C345.03,337.23 345.97,336.76 346.90,335.50 C347.87,334.19 348.83,331.44 349.80,329.80 C350.73,328.21 351.67,326.83 352.60,325.60 C354.03,323.71 355.47,322.78 356.90,320.60 C357.93,319.03 358.97,315.74 360.00,314.10 C360.93,312.62 361.87,310.50 362.80,310.50 C363.77,310.50 364.73,312.00 365.70,312.00 C366.63,312.00 367.57,308.50 368.50,307.70 C369.70,306.67 370.90,305.60 372.10,305.60 C373.27,305.60 374.43,308.40 375.60,308.40 C376.80,308.40 378.00,304.10 379.20,304.10 C380.37,304.10 381.53,304.87 382.70,305.60 C383.90,306.35 385.10,308.36 386.30,309.80 C387.47,311.20 388.63,314.10 389.80,314.10 C391.00,314.10 392.20,313.40 393.40,313.40 C394.57,313.40 395.73,317.05 396.90,318.40 C398.10,319.79 399.30,321.55 400.50,321.90 C401.90,322.31 403.30,322.16 404.70,322.60 C405.90,322.98 407.10,328.27 408.30,329.70 C409.73,331.41 411.17,331.75 412.60,333.30 C414.07,334.88 415.53,338.23 417.00,340.00 C418.43,341.73 419.87,342.88 421.30,344.30 C422.73,345.72 424.17,346.93 425.60,348.50 C426.77,349.77 427.93,351.25 429.10,352.80 C430.07,354.09 431.03,355.52 432.00,357.00 C433.17,358.79 434.33,361.66 435.50,362.70 C436.70,363.77 437.90,363.99 439.10,364.90 C440.27,365.79 441.43,366.84 442.60,368.40 C443.57,369.69 444.53,372.16 445.50,374.10 C446.20,375.51 446.90,378.40 447.60,378.40 C448.30,378.40 449.00,376.90 449.70,376.90 C450.40,376.90 451.10,379.80 451.80,381.20 C452.53,382.67 453.27,384.37 454.00,385.50 C454.93,386.94 455.87,387.84 456.80,389.00 C457.77,390.20 458.73,391.40 459.70,392.60 C460.63,393.76 461.57,394.92 462.50,396.10 C463.43,397.28 464.37,398.43 465.30,399.70 C466.27,401.02 467.23,402.54 468.20,403.90 C469.60,405.87 471.00,408.04 472.40,409.60 C472.73,409.97 473.07,410.27 473.40,410.60 C474.93,412.11 476.47,413.30 478.00,415.00 C478.83,415.93 479.67,417.26 480.50,418.20 C481.57,419.40 482.63,420.69 483.70,421.40 C484.77,422.11 485.83,422.35 486.90,423.00 C487.97,423.65 489.03,424.56 490.10,425.50 C491.17,426.44 492.23,428.27 493.30,428.70 C494.37,429.13 495.43,429.18 496.50,429.50 C497.87,429.91 499.23,430.50 500.60,431.10 C501.67,431.57 502.73,432.17 503.80,432.70 C504.87,433.23 505.93,433.87 507.00,434.30 C508.60,434.95 510.20,435.46 511.80,435.90 C512.90,436.21 514.00,436.26 515.10,436.70 C515.90,437.02 516.70,438.87 517.50,439.10 C518.30,439.33 519.10,439.50 519.90,439.50 C520.70,439.50 521.50,438.70 522.30,438.70 C523.10,438.70 523.90,440.52 524.70,440.70 C525.77,440.94 526.83,441.10 527.90,441.10 C529.07,441.10 530.23,440.80 531.40,440.80 C531.40,440.80 531.40,441.00 531.40,441.00 C532.90,441.00 534.40,441.67 535.90,441.90 C537.27,442.11 538.63,442.22 540.00,442.40 C543.57,442.87 547.13,443.59 550.70,444.00 C555.50,444.55 560.30,445.00 565.10,445.30 C569.93,445.60 574.77,445.80 579.60,446.00 C585.23,446.23 590.87,446.40 596.50,446.60" stroke="#1F497D" stroke-width="2.25" fill="none" stroke-linejoin="round" stroke-linecap="round"/>
</g>
</svg>
</body></html>
